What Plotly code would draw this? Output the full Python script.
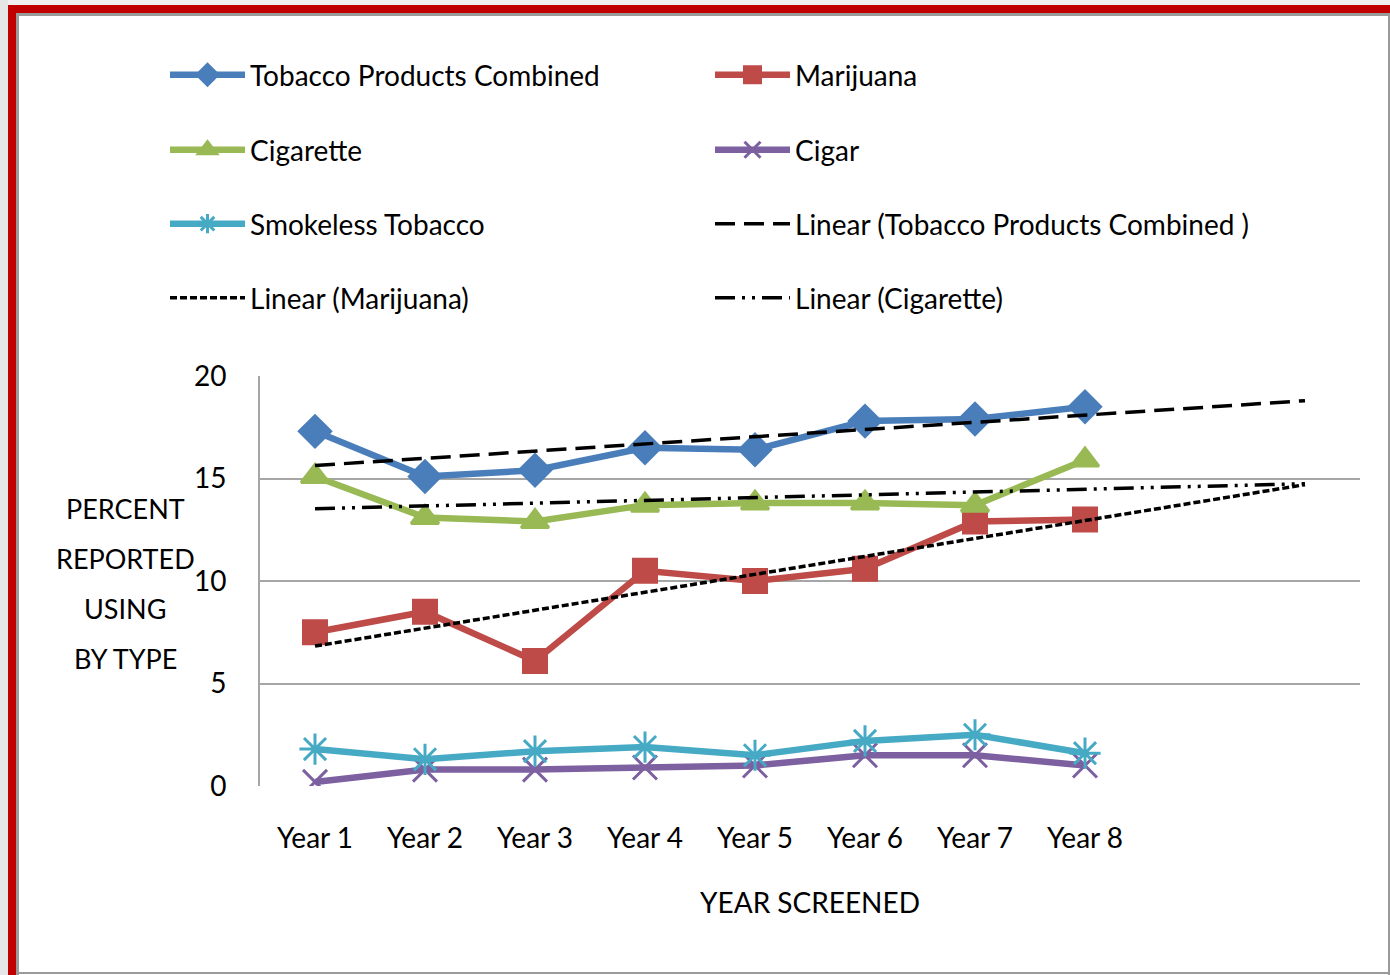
import plotly.graph_objects as go
import numpy as np

years = ["Year 1", "Year 2", "Year 3", "Year 4", "Year 5", "Year 6", "Year 7", "Year 8"]
year_num = [1, 2, 3, 4, 5, 6, 7, 8]

tobacco = [17.3, 15.1, 15.4, 16.5, 16.4, 17.8, 17.9, 18.5]
marijuana = [7.5, 8.5, 6.1, 10.5, 10.0, 10.6, 12.9, 13.0]
cigarette = [15.1, 13.1, 12.9, 13.7, 13.8, 13.8, 13.7, 15.9]
cigar = [0.2, 0.8, 0.8, 0.9, 1.0, 1.5, 1.5, 1.0]
smokeless = [1.8, 1.3, 1.7, 1.9, 1.5, 2.2, 2.5, 1.6]

y_title_lines = ["PERCENT", "REPORTED", "USING", "BY TYPE"]
forecast_periods = 2

W, H = 1390, 975
M_L, M_R, M_T, M_B = 260, 30, 376, 189
PW = W - M_L - M_R
PH = H - M_T - M_B

font_name = "Lato, Liberation Sans, sans-serif"
fsize = 28
font_color = "#000000"
grid_color = "#a6a6a6"


def px_x(p):
    return (p - M_L) / PW


def px_y(p):
    return (H - M_B - p) / PH


def trend(values):
    slope, icpt = np.polyfit(year_num, values, 1)
    xs = np.array([year_num[0], year_num[-1] + forecast_periods])
    return xs, slope * xs + icpt


# legend slots: (column x px, row y px)
col_x = [165, 710]
row_y = [75, 150, 224, 298]

series = [
    ("Tobacco Products Combined", tobacco, "#4a7ebb", "diamond", 24, "legend"),
    ("Marijuana", marijuana, "#be4b48", "square", 23, "legend2"),
    ("Cigarette", cigarette, "#98b954", "triangle-up", 24, "legend3"),
    ("Cigar", cigar, "#7d60a0", "x-thin-open", 24, "legend4"),
    ("Smokeless Tobacco", smokeless, "#46aac5", "asterisk-open", 26, "legend5"),
]

fig = go.Figure()

for name, vals, color, sym, size, lg in series:
    fig.add_trace(go.Scatter(
        x=year_num, y=vals, name=name, mode="lines+markers", legend=lg,
        showlegend=True,
        line=dict(color=color, width=6.5),
        marker=dict(symbol=sym, size=size, color=color,
                    line=dict(color=color, width=3)),
    ))

trend_lines = [
    ("Linear (Tobacco Products Combined )", tobacco, "20px,9px", "legend6"),
    ("Linear (Marijuana)", marijuana, "7px,3px", "legend7"),
    ("Linear (Cigarette)", cigarette, "20px,7px,3px,7px,3px,7px", "legend8"),
]
for name, vals, dash, lg in trend_lines:
    tx, ty = trend(vals)
    fig.add_trace(go.Scatter(
        x=tx, y=ty, name=name, mode="lines", legend=lg, showlegend=True,
        line=dict(color="black", width=3.5, dash=dash),
    ))

legends = {}
for i in range(8):
    key = "legend" if i == 0 else f"legend{i + 1}"
    legends[key] = dict(
        orientation="h", xanchor="left", yanchor="middle",
        x=px_x(col_x[i % 2]), y=px_y(row_y[i // 2]),
        font=dict(family=font_name, size=fsize, color=font_color),
        itemwidth=75, bgcolor="rgba(0,0,0,0)",
        itemclick=False, itemdoubleclick=False,
    )

shapes = [
    dict(type="rect", xref="paper", yref="paper", x0=px_x(0), x1=px_x(W), y0=px_y(0), y1=px_y(5),
         fillcolor="#f0f0f0", line_width=0, layer="below"),
    dict(type="rect", xref="paper", yref="paper", x0=px_x(0), x1=px_x(8), y0=px_y(0), y1=px_y(H),
         fillcolor="#e6e6e6", line_width=0, layer="below"),
    dict(type="rect", xref="paper", yref="paper", x0=px_x(8), x1=px_x(W), y0=px_y(5), y1=px_y(13),
         fillcolor="#c00000", line_width=0, layer="below"),
    dict(type="rect", xref="paper", yref="paper", x0=px_x(8), x1=px_x(16), y0=px_y(5), y1=px_y(H),
         fillcolor="#c00000", line_width=0, layer="below"),
    dict(type="rect", xref="paper", yref="paper", x0=px_x(16), x1=px_x(W), y0=px_y(13), y1=px_y(16),
         fillcolor="#9a9a9a", line_width=0, layer="below"),
    dict(type="rect", xref="paper", yref="paper", x0=px_x(16), x1=px_x(19), y0=px_y(13), y1=px_y(H),
         fillcolor="#9a9a9a", line_width=0, layer="below"),
    dict(type="rect", xref="paper", yref="paper", x0=px_x(W - 2), x1=px_x(W), y0=px_y(13), y1=px_y(H),
         fillcolor="#9a9a9a", line_width=0, layer="below"),
    dict(type="rect", xref="paper", yref="paper", x0=px_x(16), x1=px_x(W), y0=px_y(H - 3), y1=px_y(H - 1),
         fillcolor="#9a9a9a", line_width=0, layer="below"),
]

annotations = []
for i, line in enumerate(y_title_lines):
    annotations.append(dict(
        text=line, xref="paper", yref="paper", x=px_x(125), y=px_y(508 + 50 * i),
        xanchor="center", yanchor="middle", showarrow=False,
        font=dict(family=font_name, size=27, color=font_color),
    ))

fig.update_layout(
    width=W, height=H,
    margin=dict(l=M_L, r=M_R, t=M_T, b=M_B, autoexpand=False),
    paper_bgcolor="white", plot_bgcolor="white",
    showlegend=True,
    font=dict(family=font_name, size=fsize, color=font_color),
    xaxis=dict(
        range=[0.5, 10.5], tickvals=year_num, ticktext=years,
        showgrid=False, zeroline=False, showline=False, ticks="",
        ticklabelstandoff=33,
        tickfont=dict(family=font_name, size=fsize, color=font_color),
        title=dict(text="YEAR SCREENED", standoff=40,
                   font=dict(family=font_name, size=fsize, color=font_color)),
    ),
    yaxis=dict(
        range=[0, 20], dtick=5, tick0=0,
        showgrid=True, gridcolor=grid_color, gridwidth=2,
        zeroline=False, showline=True, linecolor=grid_color, linewidth=2,
        ticks="", ticklabelstandoff=26,
        tickfont=dict(family=font_name, size=fsize, color=font_color),
    ),
    shapes=shapes,
    annotations=annotations,
    **legends,
)

fig.write_html("out.html", config={"displayModeBar": False},
               post_script="document.body.style.margin='0';")
